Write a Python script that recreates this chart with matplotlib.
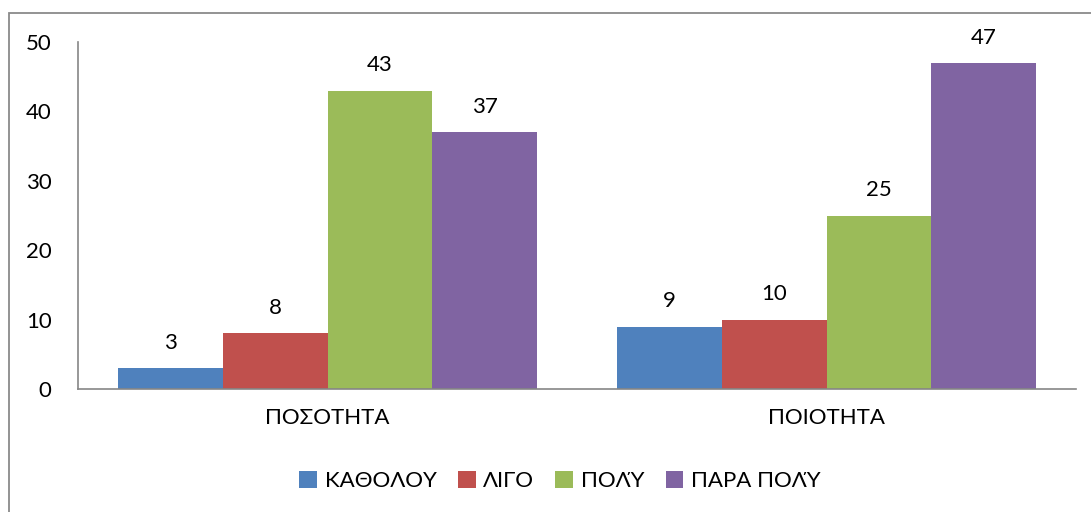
import matplotlib.pyplot as plt
import matplotlib.patches as mpatches
import numpy as np

plt.rcParams['font.family'] = ['Lato', 'DejaVu Sans']

categories = ['ΠΟΣΟΤΗΤΑ', 'ΠΟΙΟΤΗΤΑ']
series_names = ['ΚΑΘΟΛΟΥ', 'ΛΙΓΟ', 'ΠΟΛΎ', 'ΠΑΡΑ ΠΟΛΎ']
katholou = [3, 9]
ligo = [8, 10]
poly = [43, 25]
para_poly = [37, 47]
colors = ['#4F81BD', '#C0504D', '#9BBB59', '#8064A2']

series = [katholou, ligo, poly, para_poly]

fig = plt.figure(figsize=(10.91, 5.12), dpi=100)
ax = fig.add_axes([78 / 1091, 1 - 389 / 512, 998 / 1091, 347 / 512])

# outer chart border
fig.patches.append(mpatches.Rectangle((9 / 1091, -0.1), 1.2, (1 - 13 / 512) + 0.1,
                                      transform=fig.transFigure, fill=False,
                                      edgecolor='#8a8a8a', linewidth=1.3))

x = np.arange(len(categories))
w = 0.2104
for i, (vals, name, col) in enumerate(zip(series, series_names, colors)):
    pos = x + (i - 1.5) * w
    bars = ax.bar(pos, vals, width=w, color=col, label=name)
    for b, v in zip(bars, vals):
        ax.annotate(str(v), (b.get_x() + b.get_width() / 2, v),
                    xytext=(0, 11), textcoords='offset points',
                    ha='center', va='bottom', fontsize=16, color='#000000')

ax.set_xlim(-0.5, 1.5)
ax.set_ylim(0, 50)
ax.set_yticks(range(0, 51, 10))
ax.set_xticks(x)
ax.set_xticklabels(categories)
ax.tick_params(axis='y', length=0, pad=19, labelsize=16)
ax.tick_params(axis='x', length=0, pad=14, labelsize=16)
for s in ['top', 'right']:
    ax.spines[s].set_visible(False)
for s in ['left', 'bottom']:
    ax.spines[s].set_color('#868686')
    ax.spines[s].set_linewidth(1.2)

ax.legend(loc='center', bbox_to_anchor=(560 / 1091, 1 - 481 / 512),
          bbox_transform=fig.transFigure, ncol=4, frameon=False,
          fontsize=16, handlelength=0.8, handleheight=0.8,
          handletextpad=0.35, columnspacing=0.95)

fig.savefig('out.png', dpi=100)
